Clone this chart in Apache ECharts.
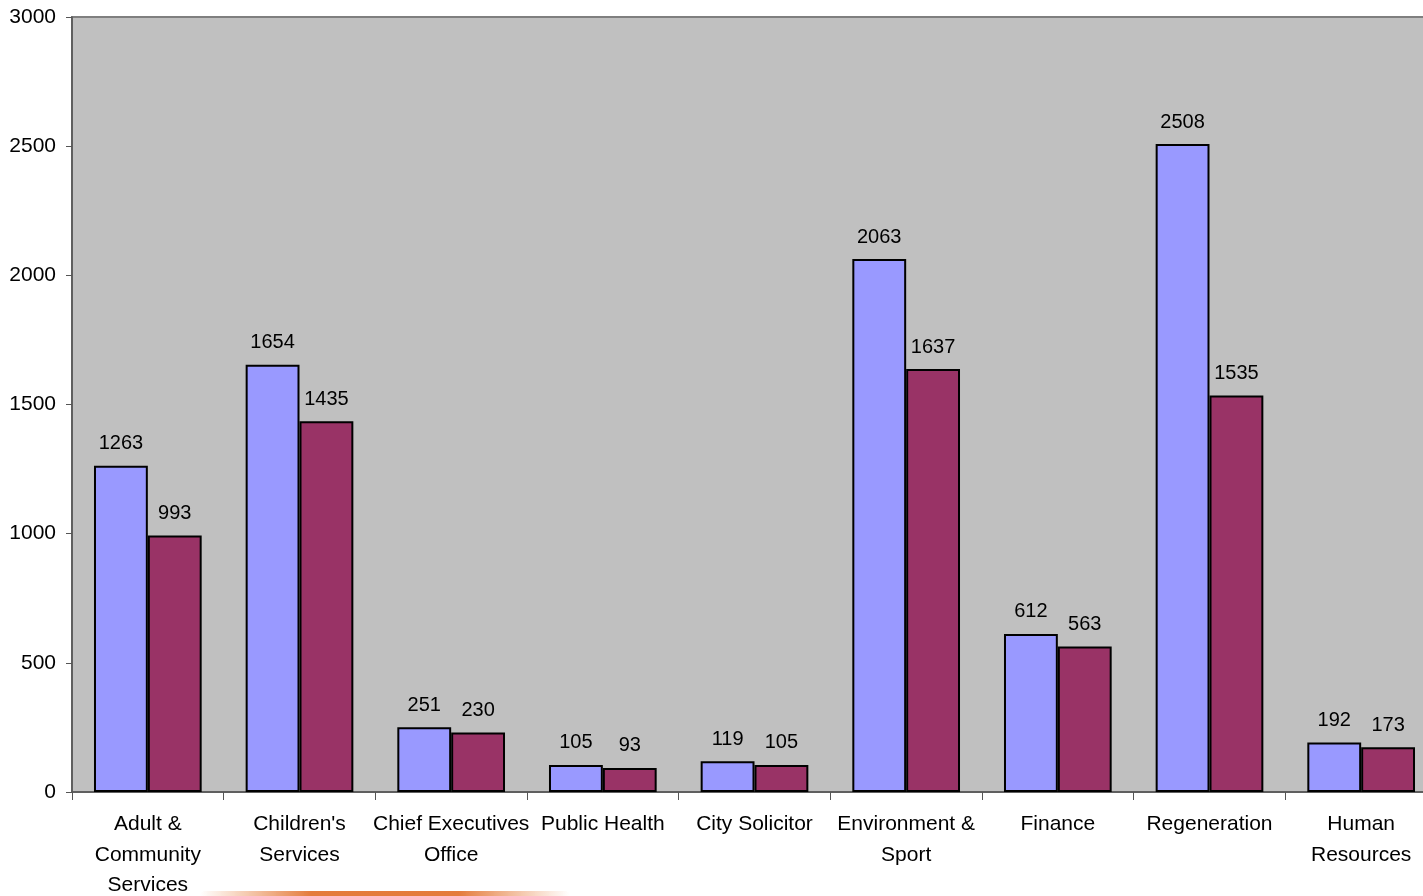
<!DOCTYPE html>
<html>
<head>
<meta charset="utf-8">
<script src="https://cdn.jsdelivr.net/npm/echarts@6/dist/echarts.min.js"></script>
<style>
html,body{margin:0;padding:0;background:#fff;}
#chart{width:1423px;height:896px;}
</style>
</head>
<body>
<div id="chart"></div>
<script>
const categories = ["Adult &\nCommunity\nServices", "Children's\nServices", "Chief Executives\nOffice", "Public Health", "City Solicitor", "Environment &\nSport", "Finance", "Regeneration", "Human\nResources"];
const seriesA = [1263, 1654, 251, 105, 119, 2063, 612, 2508, 192];
const seriesB = [993, 1435, 230, 93, 105, 1637, 563, 1535, 173];
const yTicks = [0, 500, 1000, 1500, 2000, 2500, 3000];

const FONT = '"Liberation Sans Narrow", "Arial Narrow", "Liberation Sans", Arial, sans-serif';
const chart = echarts.init(document.getElementById('chart'));
const labelStyle = {show: true, position: 'top', distance: 12, color: '#000', fontFamily: FONT, fontSize: 20};
chart.setOption({
  animation: false,
  graphic: [{
    type: 'rect', left: 200, top: 891, silent: true,
    shape: {width: 370, height: 5, r: [5, 5, 0, 0]},
    style: {fill: new echarts.graphic.LinearGradient(0, 0, 1, 0, [
      {offset: 0, color: 'rgba(230,120,50,0)'},
      {offset: 0.3, color: 'rgba(225,110,40,0.9)'},
      {offset: 0.7, color: 'rgba(225,110,40,0.9)'},
      {offset: 1, color: 'rgba(230,120,50,0)'}
    ])}
  }],
  grid: {left: 72, top: 17, width: 1365, height: 775, outerBoundsMode: 'none', containLabel: false,
         show: true, backgroundColor: '#C0C0C0', borderColor: '#7f7f7f', borderWidth: 2},
  xAxis: {
    type: 'category', data: categories,
    axisLine: {lineStyle: {color: '#555', width: 1.5}},
    axisTick: {show: true, length: 8, lineStyle: {color: '#555'}},
    axisLabel: {color: '#000', fontFamily: FONT, fontSize: 21, lineHeight: 30.5, margin: 17, interval: 0, hideOverlap: false}
  },
  yAxis: {
    type: 'value', min: yTicks[0], max: yTicks[yTicks.length - 1], interval: 500,
    axisLine: {show: true, lineStyle: {color: '#555', width: 1.5}},
    axisTick: {show: true, length: 6, inside: false, lineStyle: {color: '#555'}},
    splitLine: {show: false},
    axisLabel: {color: '#000', fontFamily: FONT, fontSize: 21, margin: 16, formatter: v => String(v)}
  },
  series: [
    {type: 'bar', data: seriesA, barGap: '0%', barCategoryGap: '29%',
     itemStyle: {color: '#9999FF', borderColor: '#000', borderWidth: 2}, label: labelStyle},
    {type: 'bar', data: seriesB,
     itemStyle: {color: '#993366', borderColor: '#000', borderWidth: 2}, label: labelStyle}
  ]
});
</script>
</body>
</html>
